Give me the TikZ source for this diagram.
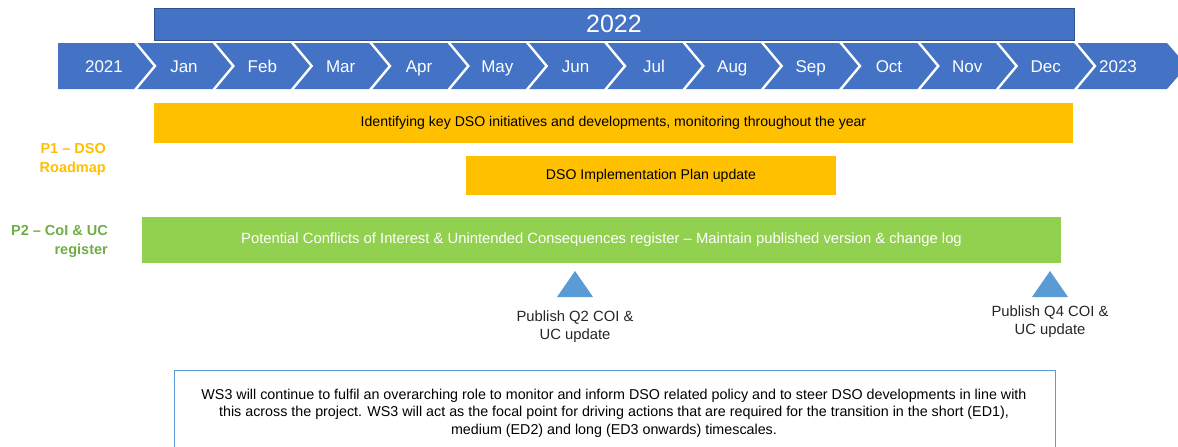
\documentclass[tikz,border=0pt]{standalone}
\usepackage{fontspec}
\setmainfont{Liberation Sans}
\definecolor{tlblue}{HTML}{4472C4}
\definecolor{tlborder}{HTML}{2F528F}
\definecolor{ambr}{HTML}{FFC000}
\definecolor{lgreen}{HTML}{92D050}
\definecolor{dgreen}{HTML}{70AD47}
\definecolor{triblue}{HTML}{5B9BD5}
\definecolor{txtgray}{HTML}{262626}
\tikzset{
  barbox/.style={inner sep=0pt, anchor=center},
  monthlbl/.style={text=white, font=\fontsize{17}{19}\selectfont, anchor=base},
  sidelbl/.style={font=\bfseries\fontsize{14.5}{19}\selectfont, align=right, anchor=east, inner sep=0pt},
  publbl/.style={text=txtgray, font=\fontsize{14.8}{18.5}\selectfont, align=center},
}
\begin{document}
\begin{tikzpicture}[x=1pt,y=-1pt]
\useasboundingbox (0,0) rectangle (1178,447);
% 2022 bar
\node[barbox, fill=tlblue, draw=tlborder, line width=0.8pt, minimum width=920pt, minimum height=32pt,
  text=white, font=\fontsize{25}{28}\selectfont] (y2022) at (614,24) {2022};
% chevron band
\fill[tlblue] (58,43) -- (1167,43) -- (1187,66) -- (1167,89) -- (58,89) -- cycle;
\foreach \k in {0,...,12} {
  \draw[white, line width=2.4pt] ({135+78.33*\k},42) -- ({155+78.33*\k},66) -- ({135+78.33*\k},90);
}
\node[monthlbl] (m2021) at (104,72) {2021};
\foreach \m [count=\i from 0] in {Jan,Feb,Mar,Apr,May,Jun,Jul,Aug,Sep,Oct,Nov,Dec} {
  \node[monthlbl] (m\i) at ({184+78.33*\i},72) {\m};
}
\node[monthlbl] (m2023) at (1118,72) {2023};
% P1 bars
\node[barbox, fill=ambr, minimum width=919pt, minimum height=40pt, font=\fontsize{14.1}{16}\selectfont] (ident) at (613.5,123)
  {Identifying key DSO initiatives and developments, monitoring throughout the year};
\node[barbox, fill=ambr, minimum width=370pt, minimum height=39pt, font=\fontsize{14.1}{16}\selectfont] (impl) at (651,175.5)
  {DSO Implementation Plan update};
% P2 bar
\node[barbox, fill=lgreen, minimum width=919pt, minimum height=46pt, text=white, font=\fontsize{14.8}{16}\selectfont] (coi) at (601.5,240)
  {Potential Conflicts of Interest \& Unintended Consequences register -- Maintain published version \& change log};
% side labels
\node[sidelbl, text=ambr] (p1) at (106,159) {P1 -- DSO\\Roadmap};
\node[sidelbl, text=dgreen] (p2) at (108,241) {P2 -- CoI \& UC\\register};
% milestones
\fill[triblue] (557,297) -- (575,271) -- (593,297) -- cycle;
\coordinate (tq2) at (575,297);
\node[publbl, anchor=north] (q2) at ([yshift=-10pt]tq2) {Publish Q2 COI \&\\UC update};
\fill[triblue] (1032,297) -- (1050,271) -- (1068,297) -- cycle;
\coordinate (tq4) at (1050,297);
\node[publbl, anchor=north] (q4) at ([yshift=-5pt]tq4) {Publish Q4 COI \&\\UC update};
% bottom box
\draw[triblue, line width=0.8pt] (174,370) rectangle (1055,470);
\node[align=center, font=\fontsize{14.3}{17.5}\selectfont] (ws3) at (614,413)
  {WS3 will continue to fulfil an overarching role to monitor and inform DSO related policy and to steer DSO developments in line with\\
   this across the project. WS3 will act as the focal point for driving actions that are required for the transition in the short (ED1),\\
   medium (ED2) and long (ED3 onwards) timescales.};
\end{tikzpicture}
\end{document}
